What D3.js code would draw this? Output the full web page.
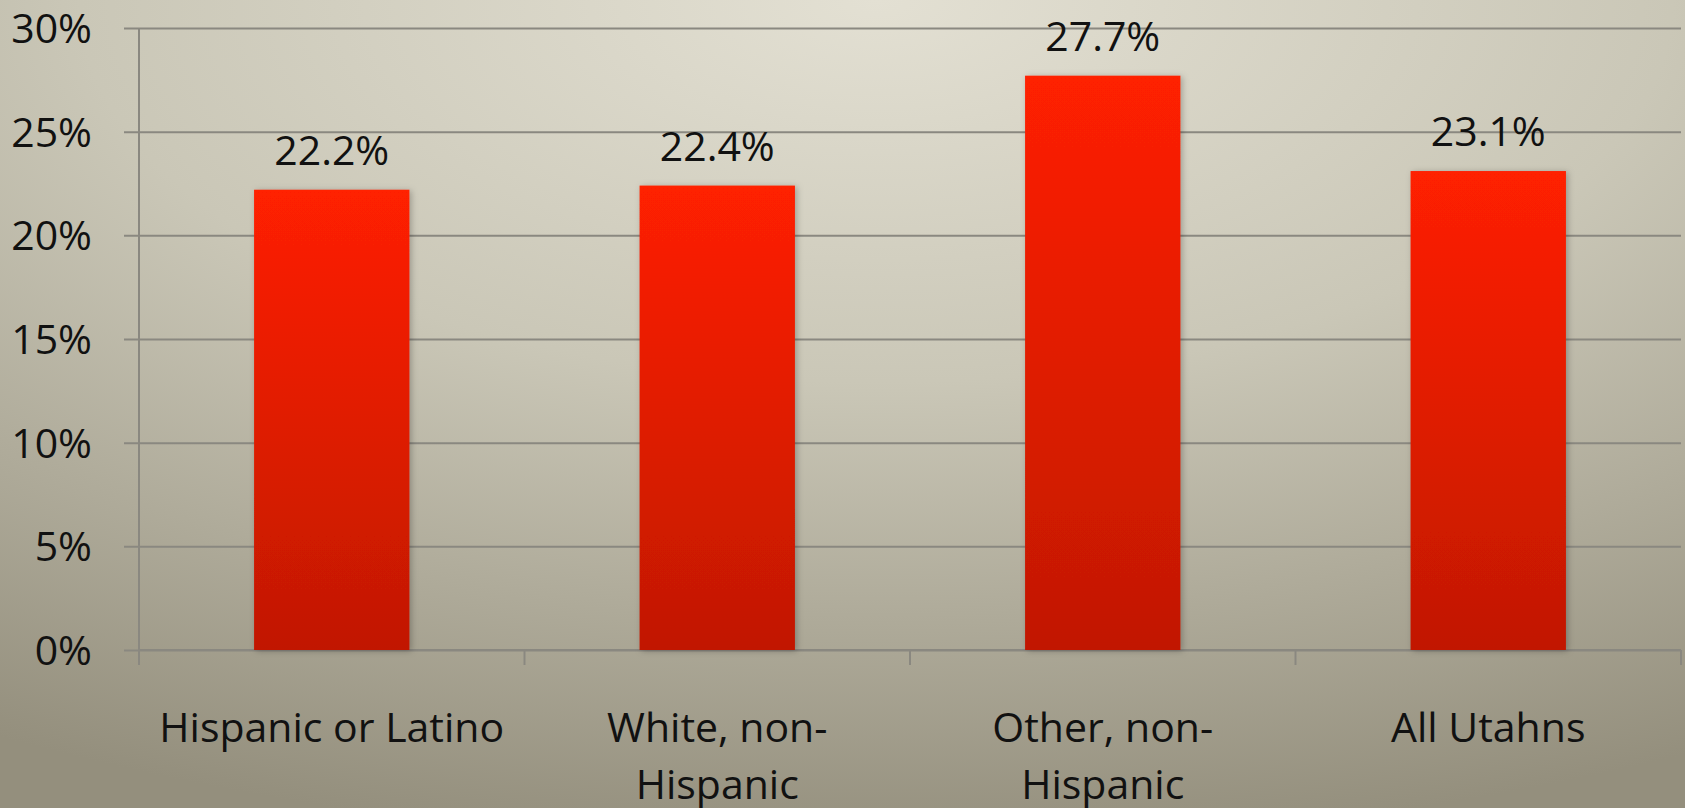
<!DOCTYPE html>
<html>
<head>
<meta charset="utf-8">
<script src="https://cdn.jsdelivr.net/npm/d3@7"></script>
<style>
  html, body { margin: 0; padding: 0; overflow: hidden; }
  svg { display: block; }
  text { font-family: "Open Sans", "Noto Sans", sans-serif; fill: #111; }
</style>
</head>
<body>
<script>
// Share of residents by group (percent)
const categories = ["Hispanic or Latino", "White, non-Hispanic", "Other, non-Hispanic", "All Utahns"];
const values = [22.2, 22.4, 27.7, 23.1];
const yTicks = [0, 5, 10, 15, 20, 25, 30];

const W = 1685, H = 808;
const margin = { left: 139, right: 4, top: 28, bottom: 158 };
const innerW = W - margin.left - margin.right;
const innerH = H - margin.top - margin.bottom;
const FONT = 41;

const svg = d3.select("body").append("svg").attr("width", W).attr("height", H);
const defs = svg.append("defs");

// Slide background: light at the top centre, darkening toward the corners
const bg = defs.append("radialGradient").attr("id", "bg")
  .attr("cx", "52%").attr("cy", "0%").attr("r", "105%")
  .attr("fx", "52%").attr("fy", "0%");
bg.append("stop").attr("offset", "0%").attr("stop-color", "#e3e0d3");
bg.append("stop").attr("offset", "45%").attr("stop-color", "#cac7b7");
bg.append("stop").attr("offset", "100%").attr("stop-color", "#948f7d");

// Bar fill: bright red on top, deeper red at the base
const barGrad = defs.append("linearGradient").attr("id", "barGrad")
  .attr("x1", 0).attr("y1", 0).attr("x2", 0).attr("y2", 1);
barGrad.append("stop").attr("offset", "0%").attr("stop-color", "#ff2000");
barGrad.append("stop").attr("offset", "100%").attr("stop-color", "#c11800");

const shadow = defs.append("filter").attr("id", "shadow")
  .attr("x", "-10%").attr("y", "-10%").attr("width", "130%").attr("height", "120%");
shadow.append("feDropShadow").attr("dx", 2).attr("dy", 1).attr("stdDeviation", 3)
  .attr("flood-color", "#000").attr("flood-opacity", 0.25);

svg.append("rect").attr("width", W).attr("height", H).attr("fill", "url(#bg)");

const g = svg.append("g").attr("transform", `translate(${margin.left},${margin.top})`);

const x = d3.scaleBand().domain(categories).range([0, innerW]).padding(0);
const y = d3.scaleLinear().domain([0, 30]).range([innerH, 0]);

const gridColor = "#8a8880";

// Horizontal gridlines with short ticks to the left of the value axis
const yAxis = d3.axisLeft(y).tickValues(yTicks).tickSize(-innerW).tickFormat(d => d + "%").tickPadding(-1);
const yg = g.append("g").call(yAxis);
yg.select(".domain").remove();
yg.selectAll(".tick line").attr("x1", -15).attr("stroke", gridColor).attr("stroke-width", 2);
yg.selectAll(".tick text").attr("x", -47).attr("dy", "0.35em")
  .style("font-size", FONT + "px").attr("fill", "#111");

// Vertical value axis line
g.append("line").attr("x1", 0).attr("x2", 0).attr("y1", 0).attr("y2", innerH)
  .attr("stroke", gridColor).attr("stroke-width", 2);

// Category axis: baseline plus boundary ticks between groups
g.append("line").attr("x1", 0).attr("x2", innerW).attr("y1", innerH).attr("y2", innerH)
  .attr("stroke", gridColor).attr("stroke-width", 2);
const bounds = categories.map(c => x(c)).concat([innerW]);
g.selectAll("line.bound").data(bounds).enter().append("line").attr("class", "bound")
  .attr("x1", d => d).attr("x2", d => d).attr("y1", innerH).attr("y2", innerH + 15)
  .attr("stroke", gridColor).attr("stroke-width", 2);

// Bars
const barW = x.bandwidth() * 0.403;
g.selectAll("rect.bar").data(values).enter().append("rect").attr("class", "bar")
  .attr("x", (d, i) => x(categories[i]) + (x.bandwidth() - barW) / 2)
  .attr("y", d => y(d))
  .attr("width", barW)
  .attr("height", d => innerH - y(d))
  .attr("fill", "url(#barGrad)")
  .attr("filter", "url(#shadow)");

// Value labels
g.selectAll("text.val").data(values).enter().append("text").attr("class", "val")
  .attr("x", (d, i) => x(categories[i]) + x.bandwidth() / 2)
  .attr("y", d => y(d) - 25)
  .attr("text-anchor", "middle")
  .style("font-size", FONT + "px")
  .text(d => d.toFixed(1) + "%");

// Category labels, wrapped after spaces or hyphens to fit the group width
const measure = svg.append("text").style("font-size", FONT + "px").attr("visibility", "hidden");
function wrapLines(label, maxW) {
  const tokens = label.match(/[^\s-]+-?\s*|\s+/g);
  const lines = [];
  let cur = "";
  tokens.forEach(t => {
    const trial = cur + t;
    measure.text(trial.trim());
    if (cur && measure.node().getComputedTextLength() > maxW) {
      lines.push(cur.trim());
      cur = t;
    } else {
      cur = trial;
    }
  });
  if (cur.trim()) lines.push(cur.trim());
  return lines;
}

categories.forEach(c => {
  const lines = wrapLines(c, x.bandwidth() * 0.92);
  const t = g.append("text")
    .attr("x", x(c) + x.bandwidth() / 2)
    .attr("y", innerH + 92)
    .attr("text-anchor", "middle")
    .style("font-size", FONT + "px");
  lines.forEach((ln, i) => {
    t.append("tspan").attr("x", x(c) + x.bandwidth() / 2).attr("dy", i === 0 ? 0 : 57).text(ln);
  });
});
measure.remove();
</script>
</body>
</html>
